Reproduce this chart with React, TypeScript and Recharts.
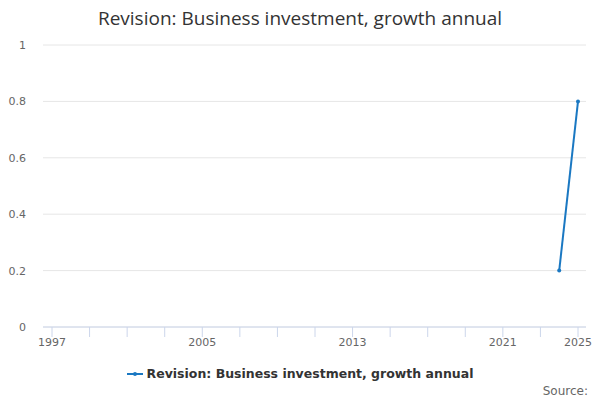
import React from 'react';
import { LineChart, Line, XAxis, YAxis, CartesianGrid } from 'recharts';

const years: number[] = [1997, 1998, 1999, 2000, 2001, 2002, 2003, 2004, 2005, 2006, 2007, 2008, 2009, 2010, 2011, 2012, 2013, 2014, 2015, 2016, 2017, 2018, 2019, 2020, 2021, 2022, 2023, 2024, 2025];
const revision: (number | null)[] = [null, null, null, null, null, null, null, null, null, null, null, null, null, null, null, null, null, null, null, null, null, null, null, null, null, null, null, 0.2, 0.8];
const xTicks: number[] = [1997, 1999, 2001, 2003, 2005, 2007, 2009, 2011, 2013, 2015, 2017, 2019, 2021, 2023, 2025];
const xLabels: number[] = [1997, 2005, 2013, 2021, 2025];
const yTicks: number[] = [0, 0.2, 0.4, 0.6, 0.8, 1];
const seriesName = 'Revision: Business investment, growth annual';
const titleText = 'Revision: Business investment, growth annual';

const data = years.map((y, i) => ({ year: y, value: revision[i] }));

const COLOR = '#1a78c2';

export default function App() {
  return (
    <div style={{ position: 'absolute', left: 0, top: 0, width: 600, height: 400, background: '#fff' }}>
      <div style={{ position: 'absolute', top: 5, left: 0, width: 600, textAlign: 'center', fontFamily: 'Open Sans, sans-serif', fontSize: 19, color: '#333' }}>
        {titleText}
      </div>
      <LineChart width={600} height={400} data={data} margin={{ top: 45, right: 14, bottom: 48, left: 0 }}>
        <CartesianGrid vertical={false} stroke="#e6e6e6" />
        <XAxis
          dataKey="year"
          type="number"
          domain={[1997, 2025]}
          ticks={xTicks}
          interval={0}
          padding={{ left: 9, right: 8 }}
          tickFormatter={(v: number) => (xLabels.includes(v) ? String(v) : '')}
          stroke="#ccd6eb"
          tickSize={10}
          tickMargin={1}
          height={25}
          tick={{ fill: '#666', fontSize: 11, fontFamily: 'DejaVu Sans, sans-serif' }}
        />
        <YAxis
          domain={[0, 1]}
          ticks={yTicks}
          width={43}
          axisLine={false}
          tickLine={false}
          tickMargin={11}
          tick={{ fill: '#666', fontSize: 11, fontFamily: 'DejaVu Sans, sans-serif' }}
        />
        <Line
          dataKey="value"
          name={seriesName}
          stroke={COLOR}
          strokeWidth={2}
          dot={{ r: 2, fill: COLOR, stroke: COLOR, strokeWidth: 0 }}
          isAnimationActive={false}
        />
      </LineChart>
      <div style={{ position: 'absolute', top: 366, left: 0, width: 600, display: 'flex', justifyContent: 'center', alignItems: 'center', fontFamily: 'DejaVu Sans, sans-serif', fontSize: 12.5, fontWeight: 'bold', color: '#333' }}>
        <svg width={16} height={10} style={{ marginRight: 4 }}>
          <line x1={0} y1={5} x2={16} y2={5} stroke={COLOR} strokeWidth={2} />
          <circle cx={8} cy={5} r={2} fill={COLOR} />
        </svg>
        <span>{seriesName}</span>
      </div>
      <div style={{ position: 'absolute', right: 12, top: 384, fontFamily: 'DejaVu Sans, sans-serif', fontSize: 12, color: '#666' }}>
        Source:
      </div>
    </div>
  );
}
